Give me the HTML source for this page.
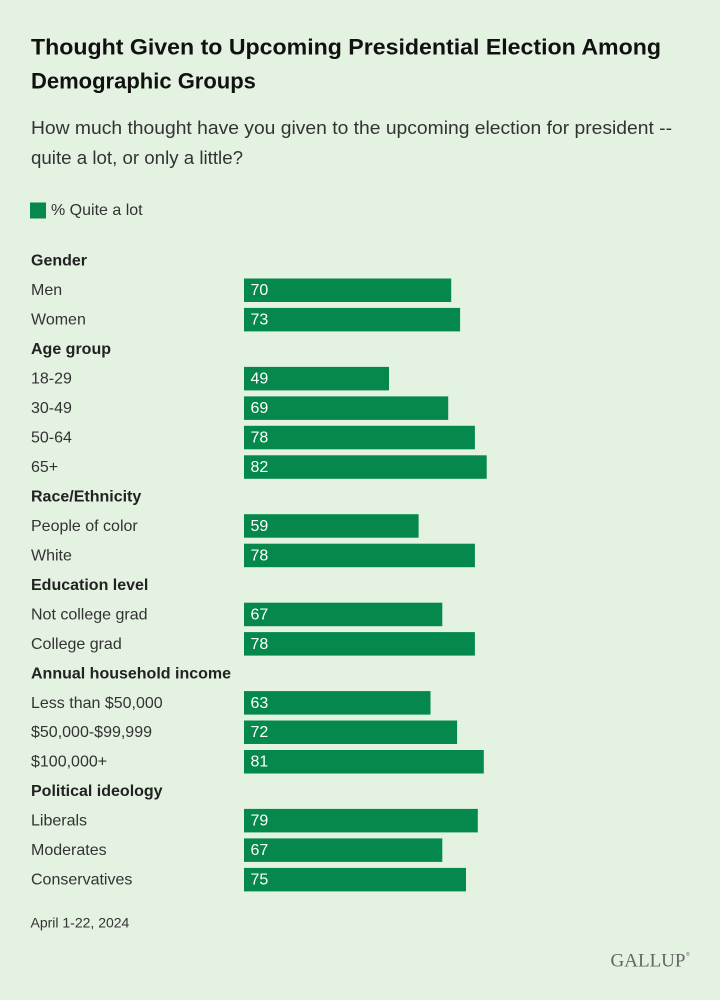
<!DOCTYPE html>
<html>
<head>
<meta charset="utf-8">
<style>
  html, body { margin: 0; padding: 0; background: #e3f2e1; }
  svg { display: block; }
  .title { font-family: "Liberation Sans", sans-serif; font-weight: bold; font-size: 22px; fill: #111; }
  .sub { font-family: "Liberation Sans", sans-serif; font-size: 18px; fill: #333; }
  .lbl { font-family: "Liberation Sans", sans-serif; font-size: 16px; fill: #333; }
  .hdr { font-family: "Liberation Sans", sans-serif; font-weight: bold; font-size: 16px; fill: #222; }
  .val { font-family: "Liberation Sans", sans-serif; font-size: 16px; fill: #fff; }
  .foot { font-family: "Liberation Sans", sans-serif; font-size: 14px; fill: #333; }
  .logo { font-family: "Liberation Serif", serif; font-size: 19px; fill: #666; }
  .bar { fill: #05884b; }
</style>
</head>
<body>
<svg width="720" height="1000" viewBox="0 0 720 1000" xmlns="http://www.w3.org/2000/svg">
  <rect x="0" y="0" width="720" height="1000" fill="#e3f2e1"/>

  <text class="title" x="31" y="54.5" textLength="630" lengthAdjust="spacingAndGlyphs">Thought Given to Upcoming Presidential Election Among</text>
  <text class="title" x="31" y="88.5">Demographic Groups</text>

  <text class="sub" x="31" y="134" textLength="641" lengthAdjust="spacingAndGlyphs">How much thought have you given to the upcoming election for president --</text>
  <text class="sub" x="31" y="164" textLength="212" lengthAdjust="spacingAndGlyphs">quite a lot, or only a little?</text>

  <rect x="30" y="202.5" width="16" height="16" class="bar"/>
  <text class="lbl" x="51" y="215">% Quite a lot</text>

  <!-- Rows -->
  <text class="hdr" x="31" y="265.7">Gender</text>

  <text class="lbl" x="31" y="295.2">Men</text>
  <rect class="bar" x="244" y="278.5" width="207.2" height="23.5"/>
  <text class="val" x="250.5" y="295.2">70</text>

  <text class="lbl" x="31" y="324.6">Women</text>
  <rect class="bar" x="244" y="307.9" width="216.1" height="23.5"/>
  <text class="val" x="250.5" y="324.6">73</text>

  <text class="hdr" x="31" y="354.1">Age group</text>

  <text class="lbl" x="31" y="383.6">18-29</text>
  <rect class="bar" x="244" y="366.9" width="145" height="23.5"/>
  <text class="val" x="250.5" y="383.6">49</text>

  <text class="lbl" x="31" y="413.1">30-49</text>
  <rect class="bar" x="244" y="396.4" width="204.2" height="23.5"/>
  <text class="val" x="250.5" y="413.1">69</text>

  <text class="lbl" x="31" y="442.5">50-64</text>
  <rect class="bar" x="244" y="425.8" width="230.9" height="23.5"/>
  <text class="val" x="250.5" y="442.5">78</text>

  <text class="lbl" x="31" y="472.0">65+</text>
  <rect class="bar" x="244" y="455.3" width="242.7" height="23.5"/>
  <text class="val" x="250.5" y="472.0">82</text>

  <text class="hdr" x="31" y="501.5">Race/Ethnicity</text>

  <text class="lbl" x="31" y="530.9">People of color</text>
  <rect class="bar" x="244" y="514.2" width="174.6" height="23.5"/>
  <text class="val" x="250.5" y="530.9">59</text>

  <text class="lbl" x="31" y="560.4">White</text>
  <rect class="bar" x="244" y="543.7" width="230.9" height="23.5"/>
  <text class="val" x="250.5" y="560.4">78</text>

  <text class="hdr" x="31" y="589.9">Education level</text>

  <text class="lbl" x="31" y="619.4">Not college grad</text>
  <rect class="bar" x="244" y="602.7" width="198.3" height="23.5"/>
  <text class="val" x="250.5" y="619.4">67</text>

  <text class="lbl" x="31" y="648.8">College grad</text>
  <rect class="bar" x="244" y="632.1" width="230.9" height="23.5"/>
  <text class="val" x="250.5" y="648.8">78</text>

  <text class="hdr" x="31" y="678.3">Annual household income</text>

  <text class="lbl" x="31" y="707.8">Less than $50,000</text>
  <rect class="bar" x="244" y="691.1" width="186.5" height="23.5"/>
  <text class="val" x="250.5" y="707.8">63</text>

  <text class="lbl" x="31" y="737.2">$50,000-$99,999</text>
  <rect class="bar" x="244" y="720.5" width="213.1" height="23.5"/>
  <text class="val" x="250.5" y="737.2">72</text>

  <text class="lbl" x="31" y="766.7">$100,000+</text>
  <rect class="bar" x="244" y="750.0" width="239.8" height="23.5"/>
  <text class="val" x="250.5" y="766.7">81</text>

  <text class="hdr" x="31" y="796.2">Political ideology</text>

  <text class="lbl" x="31" y="825.6">Liberals</text>
  <rect class="bar" x="244" y="808.9" width="233.8" height="23.5"/>
  <text class="val" x="250.5" y="825.6">79</text>

  <text class="lbl" x="31" y="855.1">Moderates</text>
  <rect class="bar" x="244" y="838.4" width="198.3" height="23.5"/>
  <text class="val" x="250.5" y="855.1">67</text>

  <text class="lbl" x="31" y="884.6">Conservatives</text>
  <rect class="bar" x="244" y="867.9" width="222" height="23.5"/>
  <text class="val" x="250.5" y="884.6">75</text>

  <text class="foot" x="30.5" y="927.5">April 1-22, 2024</text>

  <text class="logo" x="610.5" y="966.5" textLength="75" lengthAdjust="spacingAndGlyphs">GALLUP</text>
  <text x="686" y="956" font-family="Liberation Sans, sans-serif" font-size="5" fill="#666">®</text>
</svg>
</body>
</html>
